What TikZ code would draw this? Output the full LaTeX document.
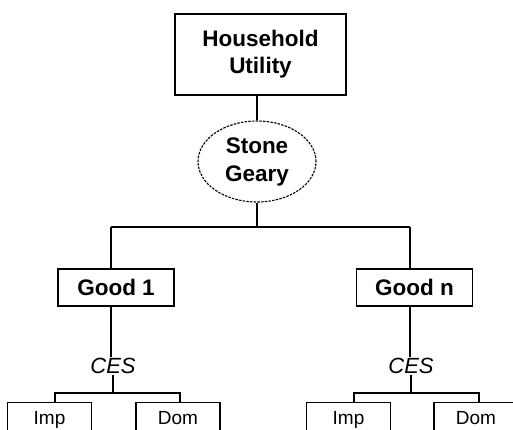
\documentclass[tikz,border=0pt]{standalone}
\usepackage{fontspec}
\setmainfont{Liberation Sans}
\usepackage{tikz}
\usetikzlibrary{positioning,shapes}

\tikzset{
  topbox/.style={draw,line width=1.3pt,minimum width=171pt,minimum height=81pt,inner sep=0pt,align=center,font=\fontsize{22.5}{27}\selectfont\bfseries},
  goodbox/.style={draw,line width=1.3pt,minimum width=116pt,minimum height=37pt,inner sep=0pt,font=\fontsize{22.5}{27}\selectfont\bfseries},
  nest/.style={draw,ellipse,line width=1.1pt,dash pattern=on 2.5pt off 1.2pt,minimum width=118pt,minimum height=81pt,inner sep=0pt,align=center,font=\fontsize{22.5}{28}\selectfont\bfseries},
  cesnode/.style={inner sep=1pt,font=\fontsize{22}{24}\selectfont\itshape},
  leaf/.style={draw,line width=1.3pt,anchor=north,minimum width=84pt,inner xsep=0pt,inner ysep=0pt,text height=22pt,text depth=40pt,font=\fontsize{19}{22}\selectfont},
  wire/.style={line width=1.3pt}
}

\begin{document}
\begin{tikzpicture}[x=1pt,y=-1pt]
\useasboundingbox (0,0) rectangle (513,430);
\fill[white] (0,0) rectangle (513,430);
\clip (0,0) rectangle (513,430);

% top of the tree
\node[topbox] (hu) at (260.5,54.5) {Household\\Utility};
\node[nest] (sg) at (257,161.5) {Stone\\Geary};

% goods
\node[goodbox] (g1) at (116,287.5) {Good 1};
\node[goodbox] (gn) at (414.5,287.5) {Good n};
\coordinate (b1) at (111,227);
\coordinate (bn) at (410,227);

% CES nests
\node[cesnode] (ces1) at (113,366) {CES};
\node[cesnode] (cesn) at (411,366) {CES};
\coordinate (l1) at (55,393);
\coordinate (r1) at (180,393);
\coordinate (ln) at (354,393);
\coordinate (rn) at (479,393);

% imports and domestic
\node[leaf] (imp1) at (49.5,402) {Imp};
\node[leaf] (dom1) at (178,402) {Dom};
\node[leaf] (impn) at (348.5,402) {Imp};
\node[leaf] (domn) at (476,402) {Dom};

\draw[wire] (hu.south -| sg.north) -- (sg.north);
\draw[wire] (sg.south) -- (sg.south |- b1);
\draw[wire] (b1) -- (bn);
\draw[wire] (b1) -- (b1 |- g1.north);
\draw[wire] (bn) -- (bn |- gn.north);
\draw[wire] (b1 |- g1.south) -- (b1 |- ces1.north);
\draw[wire] (bn |- gn.south) -- (bn |- cesn.north);

\draw[wire] (ces1.south) -- (ces1.south |- l1);
\draw[wire] (cesn.south) -- (cesn.south |- ln);
\draw[wire] (l1 |- imp1.north) -- (l1) -- (r1) -- (r1 |- dom1.north);
\draw[wire] (ln |- impn.north) -- (ln) -- (rn) -- (rn |- domn.north);
\end{tikzpicture}
\end{document}
